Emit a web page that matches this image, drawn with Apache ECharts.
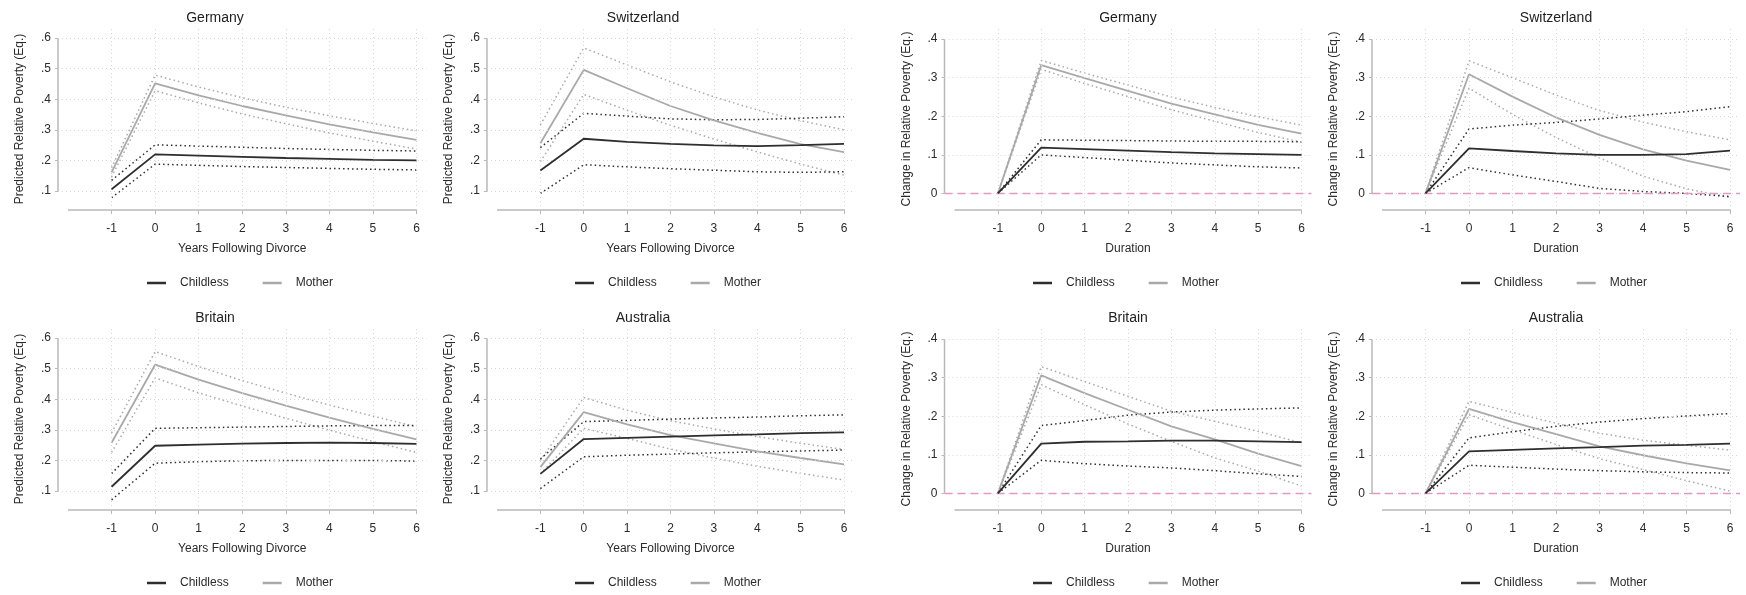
<!DOCTYPE html>
<html>
<head>
<meta charset="utf-8">
<script src="https://cdn.jsdelivr.net/npm/echarts@6/dist/echarts.min.js"></script>
<style>
  html, body { margin: 0; padding: 0; background: #fff; }
  #chart { width: 1746px; height: 595px; }
</style>
</head>
<body>
<div id="chart"></div>
<script>
// ---- data ----
const years = [-1, 0, 1, 2, 3, 4, 5, 6];
const levelTicks = [0.1, 0.2, 0.3, 0.4, 0.5, 0.6];
const changeTicks = [0, 0.1, 0.2, 0.3, 0.4];

// Predicted relative poverty (levels)
const deLevelChildless   = [0.106, 0.220, 0.216, 0.212, 0.208, 0.205, 0.202, 0.200];
const deLevelChildlessHi = [0.135, 0.251, 0.247, 0.243, 0.239, 0.236, 0.233, 0.231];
const deLevelChildlessLo = [0.078, 0.188, 0.184, 0.180, 0.177, 0.174, 0.171, 0.169];
const deLevelMother      = [0.161, 0.452, 0.413, 0.378, 0.347, 0.318, 0.292, 0.267];
const deLevelMotherHi    = [0.176, 0.479, 0.440, 0.405, 0.374, 0.346, 0.321, 0.297];
const deLevelMotherLo    = [0.146, 0.428, 0.388, 0.352, 0.320, 0.290, 0.263, 0.237];

const chLevelChildless   = [0.167, 0.271, 0.261, 0.254, 0.249, 0.247, 0.250, 0.254];
const chLevelChildlessHi = [0.242, 0.354, 0.345, 0.336, 0.333, 0.334, 0.338, 0.343];
const chLevelChildlessLo = [0.092, 0.186, 0.179, 0.173, 0.168, 0.163, 0.161, 0.163];
const chLevelMother      = [0.256, 0.496, 0.436, 0.378, 0.331, 0.290, 0.253, 0.227];
const chLevelMotherHi    = [0.316, 0.568, 0.512, 0.457, 0.408, 0.365, 0.330, 0.300];
const chLevelMotherLo    = [0.196, 0.416, 0.364, 0.315, 0.270, 0.228, 0.188, 0.152];

const gbLevelChildless   = [0.114, 0.248, 0.252, 0.255, 0.257, 0.258, 0.257, 0.254];
const gbLevelChildlessHi = [0.157, 0.305, 0.307, 0.309, 0.311, 0.313, 0.314, 0.314];
const gbLevelChildlessLo = [0.071, 0.191, 0.196, 0.199, 0.200, 0.200, 0.200, 0.198];
const gbLevelMother      = [0.258, 0.513, 0.464, 0.420, 0.379, 0.340, 0.303, 0.269];
const gbLevelMotherHi    = [0.290, 0.556, 0.507, 0.461, 0.420, 0.381, 0.345, 0.310];
const gbLevelMotherLo    = [0.226, 0.470, 0.421, 0.378, 0.338, 0.299, 0.262, 0.226];

const auLevelChildless   = [0.156, 0.270, 0.274, 0.278, 0.282, 0.285, 0.289, 0.292];
const auLevelChildlessHi = [0.205, 0.327, 0.331, 0.335, 0.339, 0.342, 0.346, 0.349];
const auLevelChildlessLo = [0.108, 0.212, 0.217, 0.221, 0.225, 0.228, 0.231, 0.234];
const auLevelMother      = [0.178, 0.358, 0.318, 0.283, 0.256, 0.230, 0.208, 0.187];
const auLevelMotherHi    = [0.200, 0.406, 0.364, 0.330, 0.303, 0.278, 0.256, 0.236];
const auLevelMotherLo    = [0.156, 0.305, 0.272, 0.237, 0.208, 0.181, 0.158, 0.136];

// Change in relative poverty relative to the year before divorce
const deChangeChildless   = [0, 0.119, 0.115, 0.111, 0.107, 0.104, 0.102, 0.100];
const deChangeChildlessHi = [0, 0.139, 0.138, 0.137, 0.136, 0.135, 0.135, 0.134];
const deChangeChildlessLo = [0, 0.100, 0.093, 0.086, 0.079, 0.074, 0.069, 0.066];
const deChangeMother      = [0, 0.333, 0.299, 0.266, 0.233, 0.205, 0.178, 0.155];
const deChangeMotherHi    = [0, 0.345, 0.312, 0.281, 0.250, 0.223, 0.199, 0.177];
const deChangeMotherLo    = [0, 0.322, 0.285, 0.251, 0.217, 0.187, 0.158, 0.133];

const chChangeChildless   = [0, 0.117, 0.110, 0.104, 0.100, 0.100, 0.102, 0.111];
const chChangeChildlessHi = [0, 0.167, 0.177, 0.184, 0.193, 0.203, 0.212, 0.225];
const chChangeChildlessLo = [0, 0.067, 0.048, 0.031, 0.013, 0.005, 0.000, -0.008];
const chChangeMother      = [0, 0.309, 0.251, 0.197, 0.152, 0.114, 0.085, 0.061];
const chChangeMotherHi    = [0, 0.344, 0.300, 0.255, 0.215, 0.185, 0.160, 0.139];
const chChangeMotherLo    = [0, 0.273, 0.205, 0.145, 0.092, 0.045, 0.012, -0.010];

const gbChangeChildless   = [0, 0.129, 0.134, 0.135, 0.137, 0.137, 0.135, 0.133];
const gbChangeChildlessHi = [0, 0.176, 0.189, 0.203, 0.211, 0.216, 0.219, 0.222];
const gbChangeChildlessLo = [0, 0.086, 0.077, 0.071, 0.066, 0.059, 0.051, 0.044];
const gbChangeMother      = [0, 0.306, 0.260, 0.217, 0.174, 0.140, 0.103, 0.071];
const gbChangeMotherHi    = [0, 0.329, 0.290, 0.252, 0.213, 0.187, 0.161, 0.131];
const gbChangeMotherLo    = [0, 0.282, 0.230, 0.180, 0.135, 0.092, 0.058, 0.019];

const auChangeChildless   = [0, 0.109, 0.113, 0.117, 0.120, 0.124, 0.126, 0.129];
const auChangeChildlessHi = [0, 0.144, 0.160, 0.174, 0.185, 0.194, 0.201, 0.207];
const auChangeChildlessLo = [0, 0.073, 0.068, 0.063, 0.059, 0.056, 0.054, 0.053];
const auChangeMother      = [0, 0.219, 0.185, 0.154, 0.122, 0.099, 0.078, 0.060];
const auChangeMotherHi    = [0, 0.239, 0.210, 0.182, 0.156, 0.138, 0.125, 0.112];
const auChangeMotherLo    = [0, 0.204, 0.165, 0.127, 0.090, 0.062, 0.033, 0.006];

// ---- panel layout ----
const FONT = "'Liberation Sans', Arial, sans-serif";
const TEXT = '#2b2b2b';
const colLeft  = [58, 487, 944.5, 1372];
const colRight = [426.5, 854, 1311.5, 1740];
const colTitleX = [215, 643, 1128, 1556];
const colLegendX = [147, 575, 1033, 1461];
const rowTop = [28, 328];
const gridH = 182;

const kinds = {
  level:  { ticks: levelTicks,  min: 0.038,  max: 0.633, yName: 'Predicted Relative Poverty (Eq.)', xName: 'Years Following Divorce', zero: false },
  change: { ticks: changeTicks, min: -0.043, max: 0.429, yName: 'Change in Relative Poverty (Eq.)',  xName: 'Duration', zero: true }
};

const panels = [
  { title: 'Germany',     kind: 'level',  col: 0, row: 0, c: deLevelChildless, cHi: deLevelChildlessHi, cLo: deLevelChildlessLo, m: deLevelMother, mHi: deLevelMotherHi, mLo: deLevelMotherLo },
  { title: 'Switzerland', kind: 'level',  col: 1, row: 0, c: chLevelChildless, cHi: chLevelChildlessHi, cLo: chLevelChildlessLo, m: chLevelMother, mHi: chLevelMotherHi, mLo: chLevelMotherLo },
  { title: 'Germany',     kind: 'change', col: 2, row: 0, c: deChangeChildless, cHi: deChangeChildlessHi, cLo: deChangeChildlessLo, m: deChangeMother, mHi: deChangeMotherHi, mLo: deChangeMotherLo },
  { title: 'Switzerland', kind: 'change', col: 3, row: 0, c: chChangeChildless, cHi: chChangeChildlessHi, cLo: chChangeChildlessLo, m: chChangeMother, mHi: chChangeMotherHi, mLo: chChangeMotherLo },
  { title: 'Britain',     kind: 'level',  col: 0, row: 1, c: gbLevelChildless, cHi: gbLevelChildlessHi, cLo: gbLevelChildlessLo, m: gbLevelMother, mHi: gbLevelMotherHi, mLo: gbLevelMotherLo },
  { title: 'Australia',   kind: 'level',  col: 1, row: 1, c: auLevelChildless, cHi: auLevelChildlessHi, cLo: auLevelChildlessLo, m: auLevelMother, mHi: auLevelMotherHi, mLo: auLevelMotherLo },
  { title: 'Britain',     kind: 'change', col: 2, row: 1, c: gbChangeChildless, cHi: gbChangeChildlessHi, cLo: gbChangeChildlessLo, m: gbChangeMother, mHi: gbChangeMotherHi, mLo: gbChangeMotherLo },
  { title: 'Australia',   kind: 'change', col: 3, row: 1, c: auChangeChildless, cHi: auChangeChildlessHi, cLo: auChangeChildlessLo, m: auChangeMother, mHi: auChangeMotherHi, mLo: auChangeMotherLo }
];

const X_MIN = -2.23, X_MAX = 6.23;
const X_AXIS_FROM = -2, X_AXIS_TO = 6;
const AXIS_COLOR = '#b8b8b8';
const DARK = '#2e2e2e', LIGHT = '#a9a9a9';

const fmtTick = v => (Math.abs(v) < 1e-9 ? '0' : String(+v.toFixed(1)).replace(/^0\./, '.'));
const pts = arr => years.map((x, i) => [x, arr[i]]);

const grid = [], xAxis = [], yAxis = [], series = [], legend = [], graphic = [];

panels.forEach((p, i) => {
  const k = kinds[p.kind];
  const top = rowTop[p.row];
  grid.push({ left: colLeft[p.col], top: top, width: colRight[p.col] - colLeft[p.col], height: gridH, containLabel: false });

  xAxis.push({
    gridIndex: i, type: 'value', min: X_MIN, max: X_MAX,
    name: k.xName, nameLocation: 'middle', nameGap: 33,
    nameTextStyle: { fontFamily: FONT, fontSize: 12, color: TEXT },
    axisLine: { show: false, onZero: false },
    axisTick: { show: true, length: 4, lineStyle: { color: AXIS_COLOR, width: 1 }, customValues: years },
    axisLabel: { show: true, margin: 13, fontFamily: FONT, fontSize: 12, color: TEXT, customValues: years, formatter: v => String(v) },
    splitLine: { show: false }
  });
  yAxis.push({
    gridIndex: i, type: 'value', min: k.min, max: k.max,
    name: k.yName, nameLocation: 'middle', nameGap: 32, nameRotate: 90,
    nameTextStyle: { fontFamily: FONT, fontSize: 12, color: TEXT },
    axisLine: { show: false, onZero: false },
    axisTick: { show: true, length: 3, lineStyle: { color: AXIS_COLOR, width: 1 }, customValues: k.ticks },
    axisLabel: { show: true, margin: 7, fontFamily: FONT, fontSize: 12, color: TEXT, customValues: k.ticks, formatter: fmtTick },
    splitLine: { show: false }
  });

  const base = { xAxisIndex: i, yAxisIndex: i, type: 'line', symbol: 'none', silent: true, animation: false };

  // dotted reference grid
  series.push(Object.assign({}, base, {
    name: 'grid', data: [], z: 1,
    markLine: {
      silent: true, symbol: ['none', 'none'], label: { show: false }, animation: false,
      lineStyle: { color: '#d6d6d6', width: 1, type: [1, 3] },
      data: k.ticks.map(v => ({ yAxis: v })).concat(years.map(v => ({ xAxis: v })))
    }
  }));

  // axis lines
  series.push(Object.assign({}, base, {
    name: 'x-axis', clip: false, z: 2,
    lineStyle: { color: AXIS_COLOR, width: 1.5 },
    data: [[X_AXIS_FROM, k.min], [X_AXIS_TO, k.min]]
  }));
  series.push(Object.assign({}, base, {
    name: 'y-axis', clip: false, z: 2,
    lineStyle: { color: AXIS_COLOR, width: 1.5 },
    data: [[X_MIN, k.ticks[0]], [X_MIN, k.ticks[k.ticks.length - 1]]]
  }));

  // confidence bands (dotted)
  const ci = (name, arr, color) => Object.assign({}, base, {
    name: name, z: 3, color: color,
    lineStyle: { color: color, width: 1.5, type: [1.5, 3] },
    data: pts(arr)
  });
  series.push(ci('Mother upper', p.mHi, LIGHT));
  series.push(ci('Mother lower', p.mLo, LIGHT));
  series.push(ci('Childless upper', p.cHi, DARK));
  series.push(ci('Childless lower', p.cLo, DARK));

  // point estimates
  series.push(Object.assign({}, base, {
    name: 'Mother', z: 4, color: LIGHT,
    lineStyle: { color: LIGHT, width: 1.8 },
    data: pts(p.m)
  }));
  series.push(Object.assign({}, base, {
    name: 'Childless', z: 5, color: DARK,
    lineStyle: { color: DARK, width: 1.8 },
    data: pts(p.c)
  }));

  if (k.zero) {
    series.push(Object.assign({}, base, {
      name: 'zero', data: [], z: 6,
      markLine: {
        silent: true, symbol: ['none', 'none'], label: { show: false }, animation: false,
        lineStyle: { color: '#e39ac0', width: 1.3, type: [8, 5] },
        data: [{ yAxis: 0 }]
      }
    }));
  }

  legend.push({
    left: colLegendX[p.col], top: top + 249, padding: 0,
    icon: 'rect', itemWidth: 19, itemHeight: 2.5, itemGap: 34,
    selectedMode: false,
    data: ['Childless', 'Mother'],
    textStyle: { fontFamily: FONT, fontSize: 12, color: TEXT, padding: [0, 0, 0, 9] }
  });

  graphic.push({
    type: 'text', x: colTitleX[p.col], y: top - 10,
    style: { text: p.title, fontFamily: FONT, fontSize: 14, fill: '#222', align: 'center', verticalAlign: 'middle' }
  });
});

const chart = echarts.init(document.getElementById('chart'), null, { renderer: 'canvas' });
chart.setOption({
  backgroundColor: '#ffffff',
  animation: false,
  grid, xAxis, yAxis, series, legend, graphic
});
</script>
</body>
</html>
